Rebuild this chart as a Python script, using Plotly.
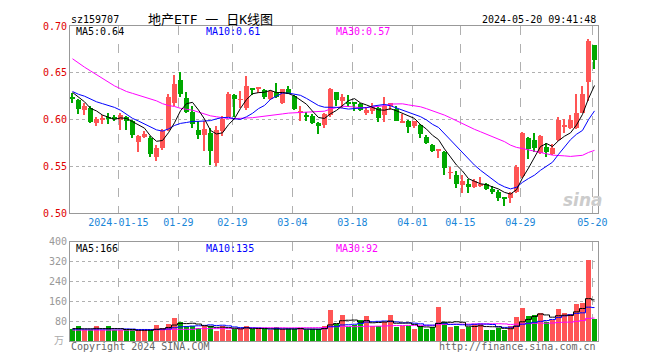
import plotly.graph_objects as go

# ---------------- data ----------------
dates = ["01-03","01-04","01-05","01-08","01-09","01-10","01-11","01-12","01-15","01-16",
         "01-17","01-18","01-19","01-22","01-23","01-24","01-25","01-26","01-29","01-30",
         "01-31","02-01","02-02","02-05","02-06","02-07","02-08","02-19","02-20","02-21",
         "02-22","02-23","02-26","02-27","02-28","02-29","03-01","03-04","03-05","03-06",
         "03-07","03-08","03-11","03-12","03-13","03-14","03-15","03-18","03-19","03-20",
         "03-21","03-22","03-25","03-26","03-27","03-28","03-29","04-01","04-02","04-03",
         "04-08","04-09","04-10","04-11","04-12","04-15","04-16","04-17","04-18","04-19",
         "04-22","04-23","04-24","04-25","04-26","04-29","04-30","05-06","05-07","05-08",
         "05-09","05-10","05-13","05-14","05-15","05-16","05-17","05-20"]

open_ = [0.624,0.621,0.610,0.612,0.596,0.600,0.602,0.602,0.600,0.603,
         0.598,0.576,0.581,0.580,0.560,0.570,0.589,0.618,0.642,0.623,
         0.608,0.589,0.583,0.586,0.554,0.588,0.603,0.626,0.621,0.612,
         0.633,0.633,0.632,0.622,0.630,0.618,0.633,0.625,0.608,0.604,
         0.604,0.596,0.594,0.605,0.630,0.620,0.618,0.618,0.617,0.608,
         0.609,0.612,0.605,0.614,0.611,0.597,0.599,0.593,0.594,0.581,
         0.573,0.567,0.565,0.543,0.541,0.530,0.531,0.528,0.530,0.531,
         0.526,0.523,0.517,0.516,0.523,0.540,0.580,0.578,0.564,0.571,
         0.563,0.578,0.593,0.591,0.591,0.607,0.640,0.680]
high = [0.628,0.622,0.618,0.615,0.603,0.605,0.607,0.605,0.607,0.604,
        0.600,0.584,0.588,0.582,0.573,0.590,0.627,0.648,0.651,0.629,
        0.614,0.598,0.598,0.591,0.593,0.604,0.629,0.627,0.631,0.647,
        0.634,0.635,0.633,0.632,0.639,0.633,0.636,0.626,0.614,0.608,
        0.606,0.597,0.607,0.634,0.630,0.627,0.626,0.618,0.618,0.613,
        0.618,0.613,0.624,0.618,0.614,0.606,0.600,0.599,0.595,0.584,
        0.574,0.569,0.566,0.549,0.545,0.541,0.537,0.536,0.539,0.532,
        0.529,0.525,0.517,0.523,0.551,0.587,0.581,0.586,0.584,0.575,
        0.574,0.603,0.601,0.605,0.627,0.636,0.686,0.680]
low = [0.618,0.606,0.605,0.596,0.593,0.595,0.595,0.598,0.589,0.589,
       0.580,0.565,0.580,0.560,0.556,0.568,0.588,0.615,0.624,0.607,
       0.591,0.579,0.566,0.551,0.550,0.582,0.603,0.603,0.612,0.610,
       0.626,0.628,0.622,0.621,0.623,0.617,0.627,0.610,0.599,0.598,
       0.595,0.585,0.591,0.603,0.614,0.612,0.613,0.609,0.609,0.605,
       0.606,0.597,0.597,0.610,0.598,0.596,0.586,0.591,0.580,0.574,
       0.565,0.559,0.541,0.536,0.527,0.521,0.521,0.527,0.528,0.525,
       0.520,0.513,0.508,0.511,0.522,0.538,0.558,0.565,0.563,0.560,
       0.562,0.577,0.586,0.590,0.590,0.607,0.620,0.654]
close = [0.623,0.611,0.614,0.597,0.601,0.601,0.601,0.601,0.605,0.598,
         0.584,0.582,0.585,0.563,0.570,0.588,0.624,0.638,0.627,0.608,
         0.595,0.583,0.590,0.566,0.589,0.601,0.627,0.622,0.621,0.636,
         0.632,0.633,0.624,0.631,0.624,0.633,0.627,0.611,0.608,0.603,
         0.596,0.593,0.606,0.633,0.621,0.624,0.617,0.617,0.610,0.610,
         0.613,0.602,0.615,0.618,0.599,0.599,0.592,0.598,0.585,0.575,
         0.566,0.569,0.548,0.543,0.531,0.534,0.528,0.534,0.530,0.526,
         0.523,0.516,0.516,0.521,0.549,0.586,0.569,0.570,0.582,0.565,
         0.570,0.600,0.594,0.600,0.607,0.627,0.684,0.664]
volume = [49,60,43,44,60,43,60,43,43,43,43,43,43,43,64,53,69,93,76,60,
          60,53,60,63,40,63,44,49,49,60,47,47,47,43,56,47,49,47,53,43,
          47,47,63,124,71,104,57,67,84,100,60,63,76,104,56,63,63,49,60,49,
          57,138,76,57,60,47,58,71,71,44,44,53,44,63,96,132,100,104,113,77,
          87,129,114,109,149,155,328,89]

# moving-average values at the left edge (history before the first candle)
ma5_head = [0.629,0.624,0.619,0.612]
ma10_head = [0.630,0.627,0.625,0.622,0.619,0.617,0.615,0.613,0.610]
ma30_head = [0.665,0.660,0.656,0.652,0.648,0.644,0.640,0.636,0.633,0.630,
             0.628,0.626,0.624,0.622,0.620,0.617,0.615,0.614,0.612,0.611,
             0.610,0.608,0.606,0.604,0.603,0.602,0.601,0.601,0.601]
vma5_head = [50,50,49,49]
vma10_head = [48,48,48,48,48,48,49,49,49]
vma30_head = [44,44,44,44,44,44,44,44,44,44,44,44,44,45,45,45,47,47,47,47,
              47,50,50,50,50,50,50,50,50]

tick_dates = ["01-15","01-29","02-19","03-04","03-18","04-01","04-15","04-29","05-20"]
tick_text = ["2024-01-15","01-29","02-19","03-04","03-18","04-01","04-15","04-29","05-20"]
price_ticks = [0.50,0.55,0.60,0.65,0.70]
vol_ticks = [80,160,240,320,400]

title_code = "sz159707"
title_name = "地产ETF 一 日K线图"
title_time = "2024-05-20 09:41:48"

# ---------------- helpers ----------------
def moving_avg(vals, n, head):
    out = list(head)
    for i in range(len(head), len(vals)):
        out.append(sum(vals[i-n+1:i+1]) / n)
    return out

n = len(close)
idx = list(range(n))
RED = "#ff5555"
GREEN = "#00a800"
col = [RED if c >= o else GREEN for o, c in zip(open_, close)]

ma5 = moving_avg(close, 5, ma5_head)
ma10 = moving_avg(close, 10, ma10_head)
ma30 = moving_avg(close, 30, ma30_head)
vma5 = moving_avg(volume, 5, vma5_head)
vma10 = moving_avg(volume, 10, vma10_head)
vma30 = moving_avg(volume, 30, vma30_head)

body_base = [min(o, c) for o, c in zip(open_, close)]
body_h = [max(abs(c - o), 0.0009) for o, c in zip(open_, close)]
wick_h = [h - l for h, l in zip(high, low)]

fig = go.Figure()
fig.add_trace(go.Bar(x=idx, y=wick_h, base=low, width=0.17, marker=dict(color=col, line_width=0),
                     xaxis="x", yaxis="y", hoverinfo="skip"))
fig.add_trace(go.Bar(x=idx, y=body_h, base=body_base, width=0.8, marker=dict(color=col, line_width=0),
                     xaxis="x", yaxis="y", hoverinfo="skip"))
for vals, c in [(ma30, "#ff00ff"), (ma10, "#0000ff"), (ma5, "#000000")]:
    fig.add_trace(go.Scatter(x=idx, y=vals, mode="lines", line=dict(color=c, width=1),
                             xaxis="x", yaxis="y", hoverinfo="skip"))
fig.add_trace(go.Bar(x=idx, y=volume, width=0.83, marker=dict(color=col, line_width=0),
                     xaxis="x2", yaxis="y2", hoverinfo="skip"))
for vals, c in [(vma30, "#ff00ff"), (vma10, "#0000ff"), (vma5, "#000000")]:
    fig.add_trace(go.Scatter(x=idx, y=vals, mode="lines", line=dict(color=c, width=1, shape="hvh"),
                             xaxis="x2", yaxis="y2", hoverinfo="skip"))

# page has an 8px body margin: figure origin sits at (8, 8) on the page
OFF = 8
W, H = 660 - OFF, 360 - OFF
L, R, T, B = 70 - OFF, 62, 20 - OFF, 19
PW, PH = W - L - R, H - T - B
xr = [(L + OFF - 72.5) / 6, (660 - R - 72.5) / 6]
tickpos = [dates.index(d) - 0.35 for d in tick_dates]

MONO = "DejaVu Sans Mono, Noto Sans CJK SC"
grid = "#b0b0b0"
border = "#999999"

def py2frac(py):
    return (360 - B - py) / PH

axis_common = dict(showline=True, mirror=True, linecolor=border, linewidth=1, zeroline=False, ticks="")
fig.update_layout(
    width=W, height=H, margin=dict(l=L, r=R, t=T, b=B),
    paper_bgcolor="white", plot_bgcolor="white", showlegend=False, barmode="overlay", bargap=0,
    xaxis=dict(domain=[0, 1], range=xr, anchor="y", tickvals=tickpos, ticktext=tick_text,
               tickfont=dict(family=MONO, size=10, color="#1a86d8"), showgrid=True, gridcolor=grid,
               griddash="dash", gridwidth=1, **axis_common),
    yaxis=dict(domain=[py2frac(210.7), 1], range=[0.5, 0.7], tickvals=price_ticks,
               ticktext=[f"{v:.2f}" for v in price_ticks], tickfont=dict(family=MONO, size=10, color="#e00000"),
               showgrid=True, gridcolor=grid, griddash="dot", gridwidth=1, **axis_common),
    xaxis2=dict(domain=[0, 1], range=xr, anchor="y2", tickvals=tickpos, showticklabels=False,
                showgrid=True, gridcolor=grid, griddash="dash", gridwidth=1, **axis_common),
    yaxis2=dict(domain=[0, py2frac(240)], range=[0, 400], tickvals=vol_ticks,
                ticktext=[str(v) for v in vol_ticks], tickfont=dict(family=MONO, size=10, color="#999999"),
                showgrid=True, gridcolor=grid, griddash="dot", gridwidth=1, **axis_common),
)

def ann(text, px, py, color="#000000", size=10, xanchor="left", family=MONO, **kw):
    fig.add_annotation(text=text, x=(px - OFF - L) / PW, y=py2frac(py), xref="paper", yref="paper",
                       xanchor=xanchor, yanchor="middle", showarrow=False,
                       font=dict(family=family, size=size, color=color, **kw))

ann(title_code, 69, 13)
ann(title_name, 210, 13, size=13, xanchor="center")
ann(title_time, 598, 13, xanchor="right")
ann(f"MA5:{ma5[-1]:.2f}", 74, 26)
ann(f"MA10:{ma10[-1]:.2f}", 204, 26, color="#0000ff")
ann(f"MA30:{ma30[-1]:.2f}", 334, 26, color="#ff00ff")
ann(f"MA5:{round(vma5[-1])}", 74, 247)
ann(f"MA10:{round(vma10[-1])}", 204, 247, color="#0000ff")
ann(f"MA30:{round(vma30[-1])}", 334, 247, color="#ff00ff")
ann("万", 66, 340, color="#aaaaaa", xanchor="right")
ann("Copyright 2024 SINA.COM", 69, 347, color="#666666")
ann("http://finance.sina.com.cn", 598, 347, color="#666666", xanchor="right")
ann("sina", 583, 197, color="#cccccc", size=17, xanchor="center", family="DejaVu Sans",
    style="italic", weight="bold")

fig.write_html("out.html")
